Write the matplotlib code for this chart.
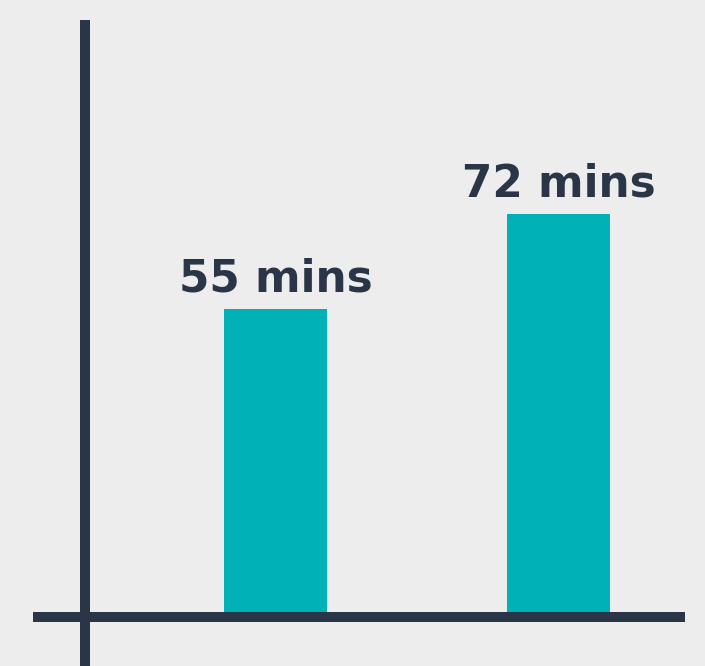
import matplotlib
matplotlib.use("Agg")
import matplotlib.pyplot as plt

categories = ["A", "B"]
values = [55, 72]
labels = ["55 mins", "72 mins"]

BG = "#ededed"
BAR = "#00b2b8"
DARK = "#2a3548"

W, H = 705, 666
fig = plt.figure(figsize=(W / 100, H / 100), dpi=100, facecolor=BG)
ax = fig.add_axes([0, 0, 1, 1])
ax.set_facecolor(BG)

pos = list(range(len(categories)))
ax.bar(pos, values, width=103 / 283, color=BAR, zorder=2)

# scale: 283 px per category, 5.6 px per minute
ax.set_xlim(-275.5 / 283, (W - 275.5) / 283)
ax.set_ylim(-49 / 5.6, (H - 49) / 5.6)
ax.axis("off")

lw = 10 * 72 / 100
ax.axhline(0, xmin=33 / W, xmax=685 / W, color=DARK, lw=lw, solid_capstyle="butt", zorder=3)
ax.plot([85 / W, 85 / W], [0, 1 - 20 / H], transform=ax.transAxes, color=DARK, lw=lw,
        solid_capstyle="butt", zorder=3)

for p, v, lab in zip(pos, values, labels):
    ax.annotate(lab, (p, v), xytext=(0, 17 * 0.72), textcoords="offset points",
                ha="center", va="baseline", fontsize=31.5, fontweight="bold",
                color=DARK, family=["DejaVu Sans"])

fig.savefig("out.png", dpi=100, facecolor=BG)
